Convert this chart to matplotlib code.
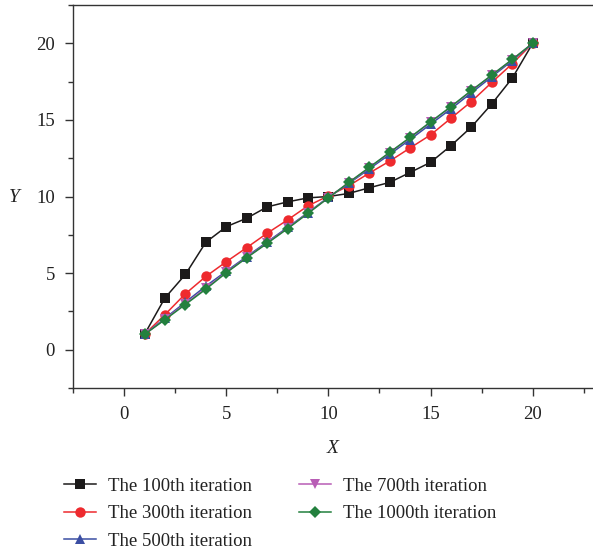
import matplotlib
matplotlib.use("Agg")
import matplotlib.pyplot as plt
from matplotlib.ticker import MultipleLocator

x = list(range(1, 21))
y100 = [1, 3.38, 4.91, 7.01, 8.03, 8.58, 9.32, 9.65, 9.91, 10.0, 10.2, 10.57, 10.92, 11.57, 12.23, 13.32, 14.54, 16.05, 17.73, 20]
y300 = [1, 2.29, 3.65, 4.78, 5.74, 6.66, 7.6, 8.47, 9.39, 10.04, 10.7, 11.53, 12.31, 13.17, 14.02, 15.11, 16.2, 17.45, 18.67, 20]
y500 = [1, 2.05, 3.1, 4.15, 5.12, 6.08, 7.03, 7.98, 8.95, 9.95, 10.85, 11.8, 12.75, 13.72, 14.72, 15.72, 16.77, 17.82, 18.87, 20]
y700 = [1, 2.0, 3.0, 4.02, 5.05, 6.02, 6.97, 7.93, 8.92, 9.93, 10.9, 11.88, 12.86, 13.84, 14.85, 15.85, 16.9, 17.92, 18.94, 20]
y1000 = [1, 1.96, 2.95, 3.95, 5.02, 6.0, 6.94, 7.9, 8.9, 9.91, 10.92, 11.9, 12.88, 13.86, 14.87, 15.87, 16.92, 17.93, 18.95, 20]
labels = ["The 100th iteration", "The 300th iteration", "The 500th iteration",
          "The 700th iteration", "The 1000th iteration"]

plt.rcParams['font.family'] = ['Liberation Serif', 'DejaVu Serif']

fig = plt.figure(figsize=(5.93, 5.52), dpi=100)
ax = fig.add_axes([73/593, 1-388/552, 1-73/593, (388-5)/552])

series = [
    (y100, '#1c1a1a', 's', 6.5),
    (y300, '#ee2a2e', 'o', 7.5),
    (y500, '#3b4ea3', '^', 7.5),
    (y700, '#b85db5', 'v', 7.5),
    (y1000, '#23803e', 'D', 6.5),
]
for (ys, c, m, ms), lab in zip(series, labels):
    ax.plot(x, ys, color=c, marker=m, markersize=ms, linewidth=1.1, label=lab,
            markeredgewidth=0)

ax.set_xlim(-2.5, 22.95)
ax.set_ylim(-2.5, 22.5)
ax.xaxis.set_major_locator(MultipleLocator(5))
ax.xaxis.set_minor_locator(MultipleLocator(2.5))
ax.yaxis.set_major_locator(MultipleLocator(5))
ax.yaxis.set_minor_locator(MultipleLocator(2.5))
ax.spines['right'].set_visible(False)
for s in ['left', 'bottom', 'top']:
    ax.spines[s].set_color('#333333')
    ax.spines[s].set_linewidth(1.0)
ax.tick_params(which='major', direction='out', length=6, width=1, colors='#333333',
               labelsize=13.5, labelcolor='#222222')
ax.tick_params(axis='x', which='major', pad=7)
ax.tick_params(axis='y', which='major', pad=7)
ax.tick_params(which='minor', direction='out', length=3.5, width=1, colors='#333333')
ax.tick_params(top=False, right=False, which='both')

ax.set_xlabel('X', fontstyle='italic', fontsize=14, color='#222222', labelpad=12)
ax.set_ylabel('Y', fontstyle='italic', fontsize=14, color='#222222', rotation=0,
              va='center', ha='center')
ax.yaxis.set_label_coords(-0.113, (388 - 197) / 383, transform=ax.transAxes)

leg = fig.legend(loc='upper left', bbox_to_anchor=(47/593, 1-461/552), ncol=2, frameon=False,
                 fontsize=13.5, handlelength=1.7, columnspacing=2.5, labelspacing=0.55,
                 handletextpad=0.65, labelcolor='#222222')
fig.savefig('out.png', dpi=100)
